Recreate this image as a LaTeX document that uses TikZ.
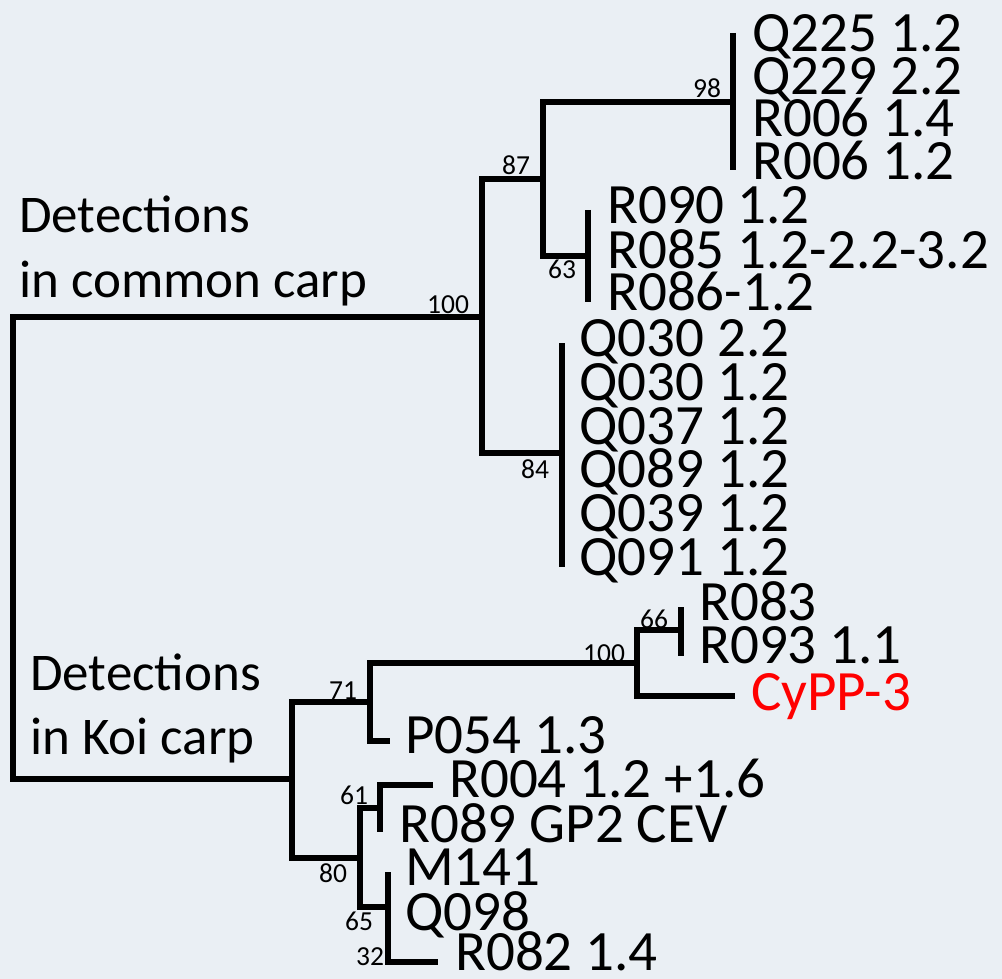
\documentclass[tikz,border=0pt]{standalone}
\usepackage{fontspec}
\setmainfont{Carlito}
\definecolor{bgpanel}{HTML}{EAEFF4}
\definecolor{hilite}{HTML}{FF0000}
\begin{document}
\begin{tikzpicture}[x=1pt,y=-1pt,
  br/.style={line width=5.5pt,line join=miter},
  leaf/.style={anchor=base west,inner sep=0pt,text depth=0pt,font=\fontsize{57}{57}\selectfont},
  boot/.style={anchor=base west,inner sep=0pt,font=\fontsize{27.5}{27.5}\selectfont},
  grp/.style={anchor=base west,inner sep=0pt,font=\fontsize{53}{53}\selectfont}]
\fill[bgpanel] (0,0) rectangle (1002,979);
\useasboundingbox (0,0) rectangle (1002,979);

% internal nodes (junctions)
\coordinate (r)     at (13,548);
\coordinate (nA)    at (482,317);
\coordinate (n87)   at (543,179);
\coordinate (n98)   at (733,102);
\coordinate (n98a)  at (733,33);
\coordinate (n98b)  at (733,170);
\coordinate (n63)   at (588,256);
\coordinate (n63a)  at (588,210);
\coordinate (n63b)  at (588,302);
\coordinate (n84)   at (562,453);
\coordinate (n84a)  at (562,343);
\coordinate (n84b)  at (562,567);
\coordinate (nB)    at (292,779);
\coordinate (n71)   at (370,702);
\coordinate (n100b) at (637,663);
\coordinate (n66)   at (681,630);
\coordinate (n66a)  at (681,607);
\coordinate (n66b)  at (681,656);
\coordinate (cyend) at (735,696);
\coordinate (p54end) at (390,741);
\coordinate (n80)   at (360,858);
\coordinate (n61)   at (380,808);
\coordinate (n61b)  at (380,832);
\coordinate (r004end) at (433,785);
\coordinate (n65)   at (388,907);
\coordinate (n65a)  at (388,872);
\coordinate (r082end) at (438,962);

% branches
\draw[br] (nA) -| (r) |- (nB);
\draw[br] (n87) -| (nA) |- (n84);
\draw[br] (n98) -| (n87) |- (n63);
\draw[br] (n98a) -- (n98b);
\draw[br] (n63a) -- (n63b);
\draw[br] (n84a) -- (n84b);
\draw[br] (n71) -| (nB) |- (n80);
\draw[br] (n100b) -| (n71) |- (p54end);
\draw[br] (n66) -| (n100b) |- (cyend);
\draw[br] (n66a) -- (n66b);
\draw[br] (n61) -| (n80) |- (n65);
\draw[br] (r004end) -| (n61) -- (n61b);
\draw[br] (n65a) -- (n65) |- (r082end);

% support values
\node[boot] (b100a) at (427,313) {100};
\node[boot] (b87) at (502,175) {87};
\node[boot] (b98) at (693,98) {98};
\node[boot] (b63) at (548,278) {63};
\node[boot] (b84) at (521,478) {84};
\node[boot] (b100b) at (583,662) {100};
\node[boot] (b66) at (640,628) {66};
\node[boot] (b71) at (329,699) {71};
\node[boot] (b61) at (340,804) {61};
\node[boot] (b80) at (319,882) {80};
\node[boot] (b65) at (345,930) {65};
\node[boot] (b32) at (356,965) {32};

% group labels
\node[grp] (g1a) at (19,233) {Detections};
\node[grp] (g1b) at (19,297) {in common carp};
\node[grp] (g2a) at (30,690) {Detections};
\node[grp] (g2b) at (30,754) {in Koi carp};

% leaves
\node[leaf] (l1)  at (752,52)  {Q225 1.2};
\node[leaf] (l2)  at (752,95)  {Q229 2.2};
\node[leaf] (l3)  at (752,137) {R006 1.4};
\node[leaf] (l4)  at (752,180) {R006 1.2};
\node[leaf] (l5)  at (607,223) {R090 1.2};
\node[leaf] (l6)  at (607,268) {R085 1.2-2.2-3.2};
\node[leaf] (l7)  at (607,310) {R086-1.2};
\node[leaf] (l8)  at (579,356) {Q030 2.2};
\node[leaf] (l9)  at (579,400) {Q030 1.2};
\node[leaf] (l10) at (579,444) {Q037 1.2};
\node[leaf] (l11) at (579,487) {Q089 1.2};
\node[leaf] (l12) at (579,531) {Q039 1.2};
\node[leaf] (l13) at (579,575) {Q091 1.2};
\node[leaf] (l14) at (699,620) {R083};
\node[leaf] (l15) at (699,663) {R093 1.1};
\node[leaf,text=hilite] (l16) at (751,710) {CyPP-3};
\node[leaf] (l17) at (405,753) {P054 1.3};
\node[leaf] (l18) at (449,797) {R004 1.2 +1.6};
\node[leaf] (l19) at (399,842) {R089 GP2 CEV};
\node[leaf] (l20) at (405,885) {M141};
\node[leaf] (l21) at (405,930) {Q098};
\node[leaf] (l22) at (455,970) {R082 1.4};
\end{tikzpicture}
\end{document}
